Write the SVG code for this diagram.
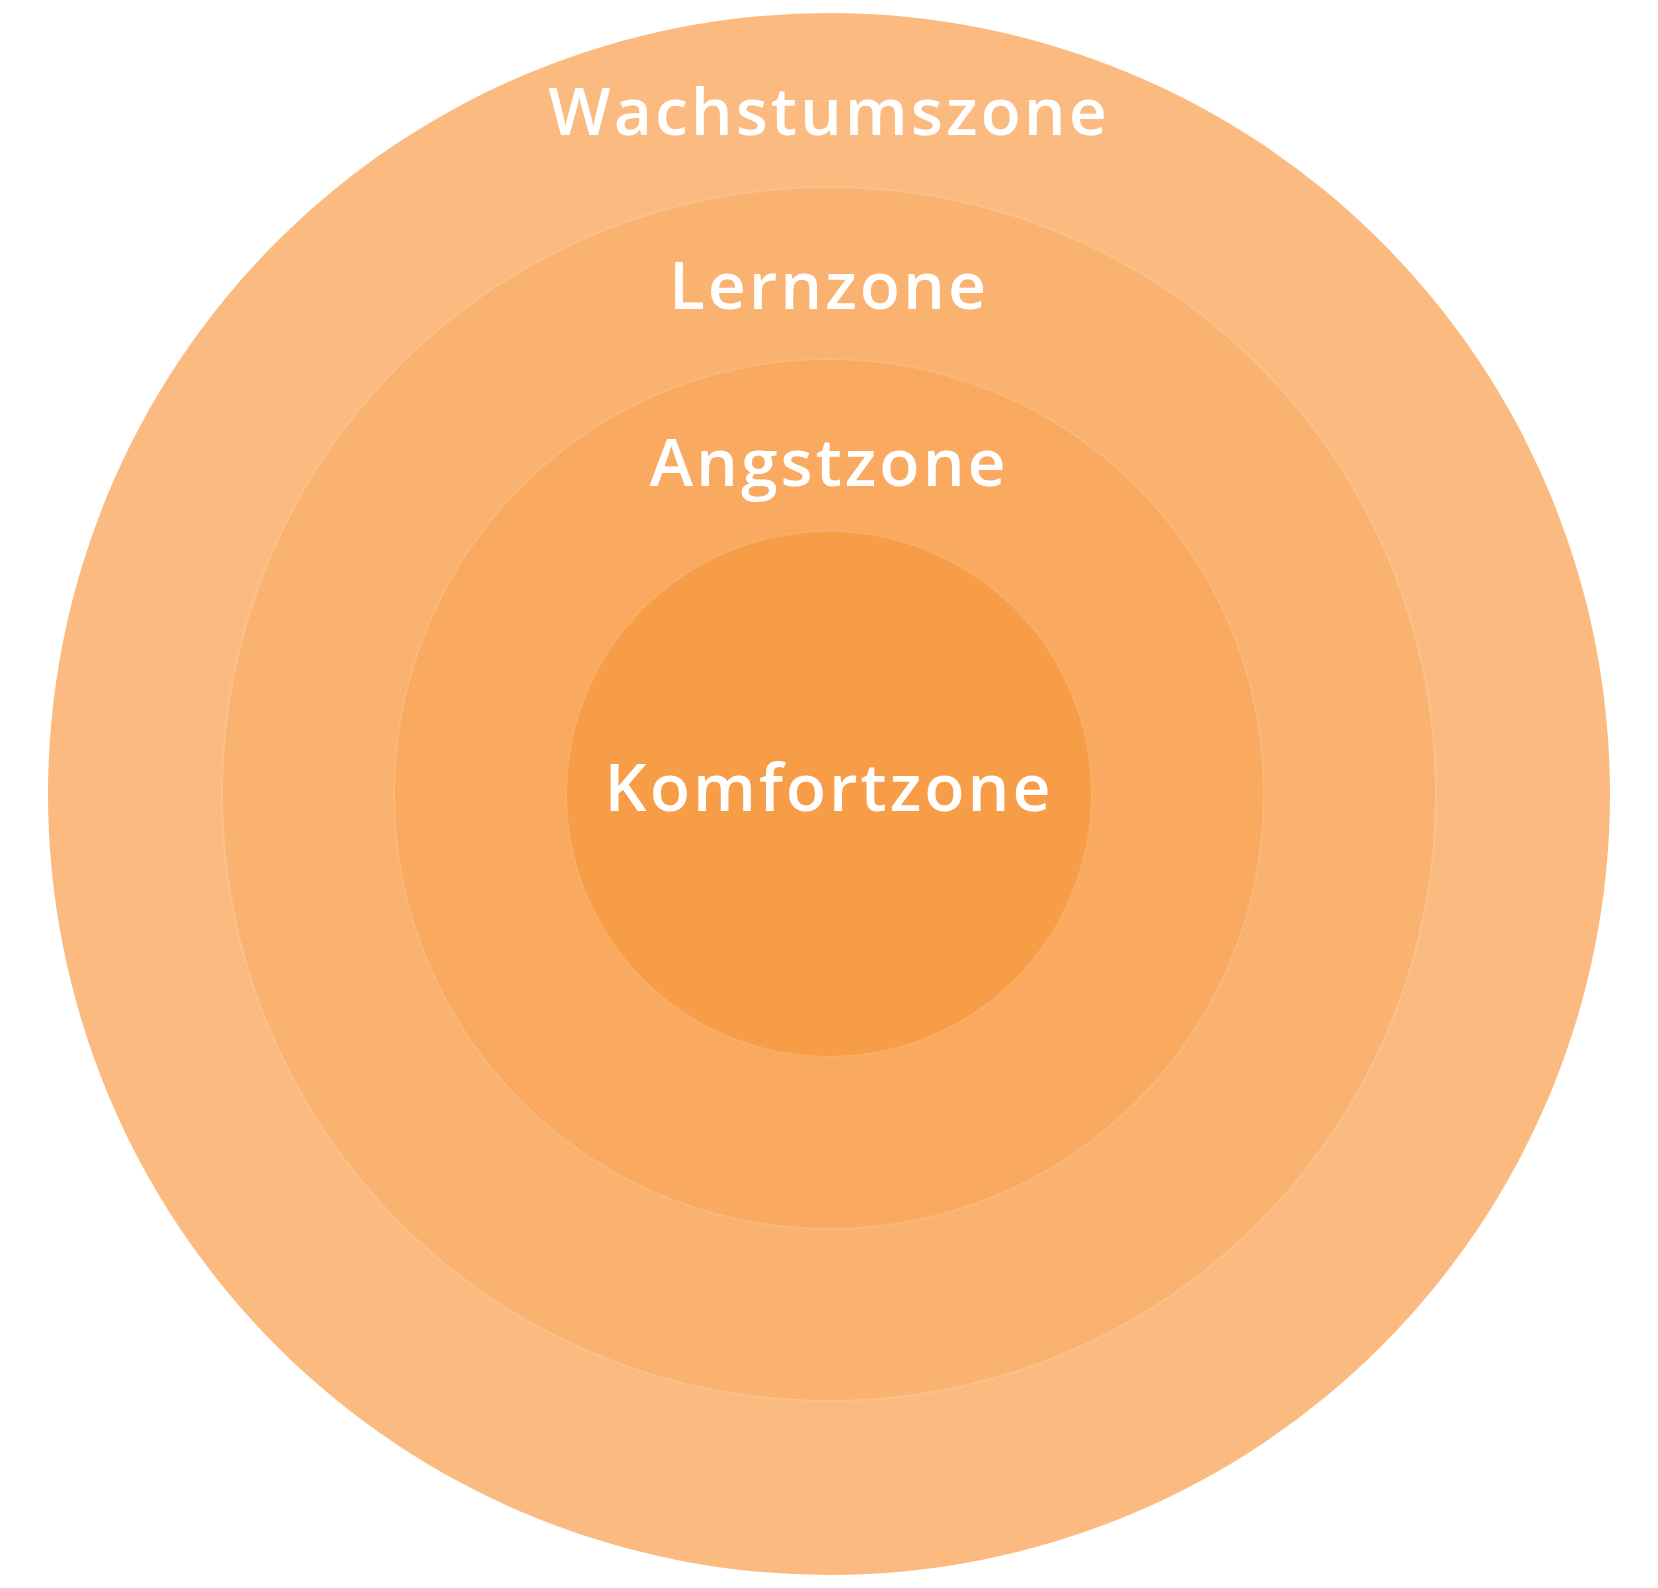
<svg xmlns="http://www.w3.org/2000/svg" width="1658" height="1588" viewBox="0 0 1658 1588">
<style>
text{font-family:"Open Sans","Liberation Sans",sans-serif;font-weight:600;font-size:66px;fill:#fff;text-anchor:middle;letter-spacing:3px}
</style>
<rect width="1658" height="1588" fill="#fff"/>
<g id="wachstum"><circle cx="829" cy="794" r="781" fill="#FBBB80"/><text x="829" y="135">Wachstumszone</text></g>
<g id="lern"><circle cx="829" cy="794" r="607" fill="#F9B26F" stroke="#FBC18C" stroke-width="2"/><text x="829" y="309">Lernzone</text></g>
<g id="angst"><circle cx="829" cy="794" r="435" fill="#F9A960" stroke="#FAB87A" stroke-width="2"/><text x="829" y="486">Angstzone</text></g>
<g id="komfort"><circle cx="829" cy="794" r="263" fill="#F89D47" stroke="#F9AE66" stroke-width="2"/><text x="829" y="811">Komfortzone</text></g>
<g id="connectors"/>
</svg>
